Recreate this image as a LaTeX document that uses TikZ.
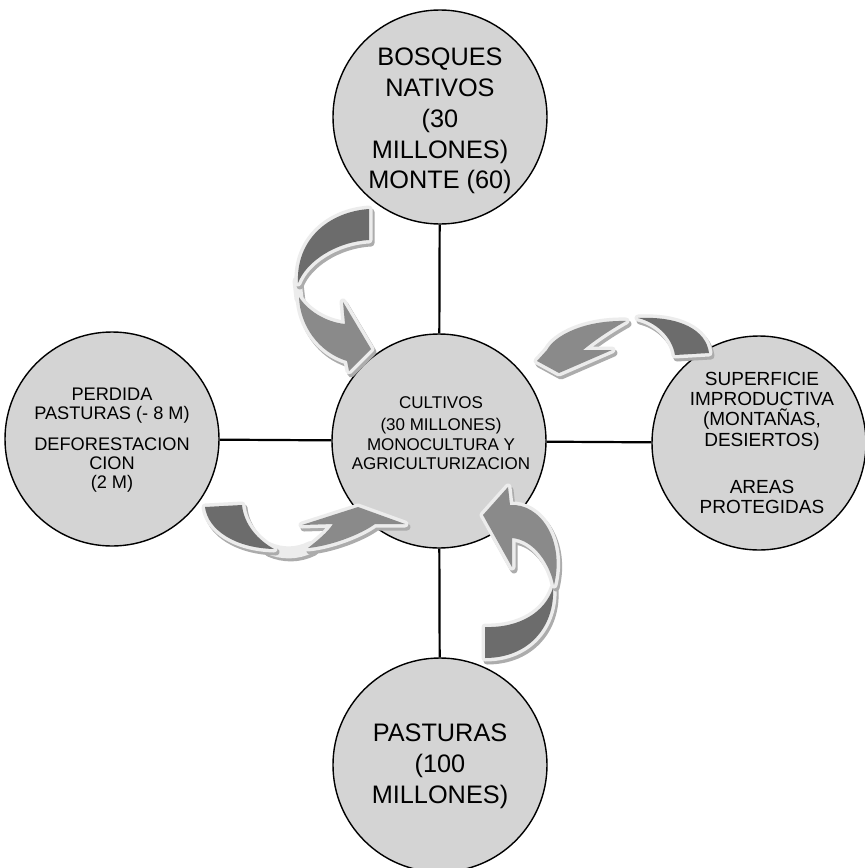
\documentclass[tikz,border=0pt]{standalone}
\usepackage{fontspec}
\setmainfont{Liberation Sans}
\definecolor{circfill}{RGB}{212,212,212}
\definecolor{backgray}{RGB}{108,108,108}
\definecolor{frontgray}{RGB}{138,138,138}
\definecolor{rimgray}{RGB}{236,236,236}
\definecolor{shadowgray}{RGB}{172,172,172}
\begin{document}
\begin{tikzpicture}[x=1pt,y=-1pt,
  circ/.style={circle,draw=black,line width=1.4pt,fill=circfill,minimum size=214pt,inner sep=0pt},
  conn/.style={line width=2.2pt,draw=black},
  bigtxt/.style={align=center,font=\fontsize{25.3}{30.8}\selectfont},
  midtxt/.style={align=center,font=\fontsize{17}{19.5}\selectfont},
  lefttxt/.style={align=center,font=\fontsize{18.2}{18.8}\selectfont},
  righttxt/.style={align=center,font=\fontsize{19}{20.2}\selectfont},
  arrowpart/.style={fill=#1,
    preaction={fill=shadowgray,draw=shadowgray,line width=7pt,line join=round,
      transform canvas={shift={(2pt,-3pt)}}},
    preaction={draw=rimgray,line width=7pt,line join=round}},
  arrowback/.style={arrowpart=backgray},
  arrowfront/.style={arrowpart=frontgray},
  bridge/.style={draw=rimgray,line width=#1,line cap=round,
    preaction={draw=shadowgray,line width=#1,line cap=round,
      transform canvas={shift={(2pt,-3pt)}}}}
]
\useasboundingbox (0,0) rectangle (865,868);
\fill[white] (0,0) rectangle (865,868);

% circles
\node[circ] (T) at (440,117) {};
\node[circ] (C) at (439,441) {};
\node[circ] (L) at (112,439) {};
\node[circ] (R) at (759,443) {};
\node[circ] (B) at (440,765) {};

% connectors
\draw[conn] (T) -- (C);
\draw[conn] (C) -- (B);
\draw[conn] (L) -- (C);
\draw[conn] (C) -- (R);

% texts
\node[bigtxt] (ttop) at (440,121) {BOSQUES\\NATIVOS\\(30\\MILLONES)\\MONTE (60)};
\node[midtxt] (tmid) at (441,433) {CULTIVOS\\[3pt](30 MILLONES)\\MONOCULTURA Y\\AGRICULTURIZACION};
\node[lefttxt] (tleft) at (112,440) {PERDIDA\\PASTURAS (- 8 M)\\[13pt]DEFORESTACION\\CION\\(2 M)};
\node[righttxt] (tright) at (762,443) {SUPERFICIE\\IMPRODUCTIVA\\(MONTAÑAS,\\DESIERTOS)\\[27pt]AREAS\\PROTEGIDAS};
\node[bigtxt] (tbot) at (440,766) {PASTURAS\\(100\\MILLONES)};

% arrow A (top-left)
\path[bridge=9pt] (297,281) -- (299,299);
\path[arrowback] (369,209) .. controls (328,212) and (296,240) .. (298,283)
   .. controls (306,262) and (335,242) .. (369,240) -- cycle;
\path[arrowfront] (299,297) .. controls (300,325) and (318,352) .. (347,361)
   -- (349,371) -- (371,349) -- (343,302) -- (345,324)
   .. controls (325,322) and (307,310) .. (299,297) -- cycle;

% arrow B (top-right)
\path[arrowback] (709,353) .. controls (706,330) and (680,316) .. (638,318)
   .. controls (655,322) and (672,336) .. (675,355) -- cycle;
\path[arrowfront] (626,321) .. controls (585,320) and (555,335) .. (547,350)
   -- (537,361) -- (559,373) -- (612,350) -- (583,350)
   .. controls (595,340) and (610,330) .. (626,321) -- cycle;

% arrow C (bottom-left)
\path[bridge=12pt] (268,548) .. controls (282,554) and (297,554) .. (311,547);
\path[arrowback] (205,507) .. controls (208,530) and (235,548) .. (274,549)
   .. controls (258,540) and (244,525) .. (242,505) -- cycle;
\path[arrowfront] (308,548) .. controls (330,546) and (360,535) .. (375,524)
   -- (405,524) -- (358,507) -- (302,525) -- (333,524)
   .. controls (328,532) and (317,541) .. (308,548) -- cycle;

% arrow D (bottom-right)
\path[arrowback] (553,588) .. controls (555,625) and (530,658) .. (485,658)
   -- (485,627) .. controls (520,628) and (545,612) .. (553,588) -- cycle;
\path[arrowfront] (510,505) .. controls (540,503) and (565,540) .. (554,585)
   .. controls (550,565) and (535,540) .. (512,538)
   -- (512,567) -- (483,515) -- (508,487) -- cycle;
\end{tikzpicture}
\end{document}
